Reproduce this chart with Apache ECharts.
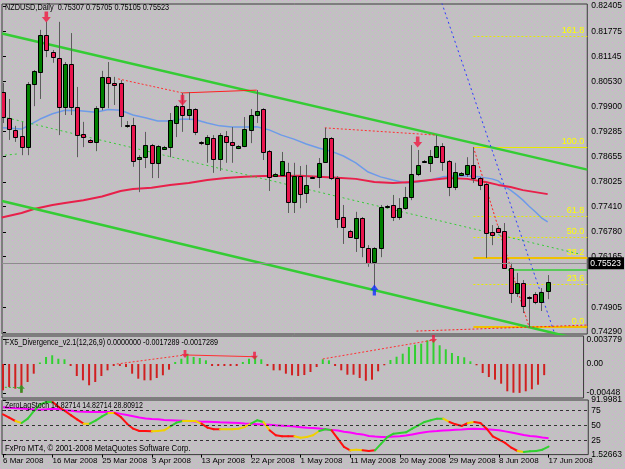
<!DOCTYPE html>
<html>
<head>
<meta charset="utf-8">
<script src="https://cdn.jsdelivr.net/npm/echarts@6/dist/echarts.min.js"></script>
<style>
html, body { margin: 0; padding: 0; }
#chart { width: 625px; height: 469px; }
</style>
</head>
<body>
<div id="chart"></div>
<script>
// NZDUSD daily, 6 Mar 2008 .. 17 Jun 2008 (bar index 0..88)
const opens = [0.8026,0.7962,0.7932,0.7917,0.7889,0.8046,0.8076,0.8168,0.8126,0.8111,
  0.7989,0.8096,0.7989,0.7922,0.7907,0.7902,0.7989,0.8064,0.8049,0.8049,
  0.7944,0.7944,0.7859,0.7864,0.7894,0.7850,0.7884,0.7889,0.7949,0.7991,
  0.7969,0.7984,0.7902,0.7897,0.7912,0.7859,0.7917,0.7902,0.7887,0.7892,
  0.7932,0.7969,0.7984,0.7879,0.7817,0.7820,0.7827,0.7752,0.7817,0.7775,
  0.7812,0.7815,0.7852,0.7912,0.7812,0.7715,0.7680,0.7663,0.7713,0.7638,
  0.7603,0.7638,0.7740,0.7745,0.7715,0.7737,0.7765,0.7822,0.7852,0.7850,
  0.7864,0.7892,0.7855,0.7790,0.7820,0.7822,0.7845,0.7812,0.7797,0.7678,
  0.7688,0.7680,0.7588,0.7526,0.7551,0.7516,0.7523,0.7503,0.75307];
const highs = [0.8049,0.8009,0.7942,0.7952,0.8051,0.8081,0.8181,0.8201,0.8131,0.8201,
  0.8101,0.8173,0.8039,0.7952,0.7909,0.7991,0.8079,0.8101,0.8064,0.8056,
  0.7954,0.7962,0.7869,0.7927,0.7897,0.7894,0.7892,0.7974,0.7994,0.8024,
  0.8026,0.7986,0.7904,0.7919,0.7919,0.7924,0.7929,0.7939,0.7894,0.7964,
  0.7984,0.8031,0.7986,0.7882,0.7825,0.7877,0.7850,0.7850,0.7842,0.7845,
  0.7817,0.7862,0.7937,0.7914,0.7817,0.7745,0.7683,0.7728,0.7715,0.7645,
  0.7640,0.7745,0.7745,0.7770,0.7762,0.7790,0.7894,0.7882,0.7857,0.7882,
  0.7919,0.7899,0.7857,0.7850,0.7827,0.7864,0.7889,0.7815,0.7800,0.7695,
  0.7693,0.7700,0.7601,0.7576,0.7558,0.7518,0.7528,0.7538,0.75705];
const lows = [0.7949,0.7907,0.7902,0.7869,0.7869,0.7991,0.8009,0.8113,0.8099,0.7919,
  0.7969,0.7969,0.7864,0.7889,0.7899,0.7879,0.7981,0.7986,0.7994,0.7939,
  0.7937,0.7840,0.7777,0.7837,0.7812,0.7812,0.7882,0.7864,0.7914,0.7927,
  0.7957,0.7919,0.7894,0.7850,0.7825,0.7830,0.7850,0.7850,0.7884,0.7889,
  0.7899,0.7949,0.7857,0.7780,0.7815,0.7817,0.7725,0.7725,0.7737,0.7750,
  0.7810,0.7787,0.7850,0.7807,0.7688,0.7648,0.7663,0.7628,0.7615,0.7591,
  0.7538,0.7615,0.7737,0.7705,0.7708,0.7733,0.7757,0.7817,0.7850,0.7827,
  0.7862,0.7830,0.7767,0.7782,0.7817,0.7815,0.7800,0.7782,0.7613,0.7645,
  0.7675,0.7586,0.7501,0.7516,0.7476,0.7441,0.7498,0.7481,0.75105];
const closes = [0.7964,0.7934,0.7914,0.7889,0.8046,0.8079,0.8168,0.8131,0.8113,0.7989,
  0.8096,0.7989,0.7919,0.7914,0.7902,0.7986,0.8064,0.8049,0.8044,0.7967,
  0.7943,0.7855,0.7864,0.7894,0.7850,0.7892,0.7889,0.7957,0.7991,0.7969,
  0.7984,0.7927,0.7899,0.7914,0.7859,0.7919,0.7902,0.7894,0.7892,0.7934,
  0.7969,0.7979,0.7877,0.7815,0.7822,0.7855,0.7752,0.7817,0.7772,0.7795,
  0.7815,0.7850,0.7912,0.7812,0.7710,0.7690,0.7665,0.7713,0.7640,0.7601,
  0.7638,0.7740,0.7742,0.7715,0.7737,0.7765,0.7822,0.7845,0.7855,0.7867,
  0.7892,0.7852,0.7790,0.7827,0.7825,0.7845,0.7812,0.7795,0.7675,0.7670,
  0.7678,0.7588,0.7526,0.7551,0.7493,0.7515,0.7503,0.7528,0.75523];

const dateBars = [0, 8, 16, 24, 32, 40, 48, 56, 64, 72, 80, 88];
const dateLabels = ['6 Mar 2008','16 Mar 2008','25 Mar 2008','3 Apr 2008','13 Apr 2008','22 Apr 2008',
  '1 May 2008','11 May 2008','20 May 2008','29 May 2008','8 Jun 2008','17 Jun 2008'];
const priceTicks = [0.82405,0.81775,0.81145,0.80530,0.79900,0.79285,0.78655,0.78025,0.77410,0.76780,0.76165,0.74905,0.74290];
const lastPrice = 0.75523;

// moving averages [bar, price]
const blueMa = [[0,0.7937],[3,0.7934],[4,0.7942],[6,0.7959],[8,0.7972],[10,0.7981],[12,0.7980],[15,0.7976],
  [17,0.7983],[19,0.7981],[21,0.7969],[23,0.7962],[25,0.7954],[27,0.7954],[29,0.7959],[31,0.7958],[33,0.7949],
  [35,0.7942],[37,0.7939],[39,0.7939],[41,0.7940],[43,0.7932],[45,0.7919],[47,0.7909],[49,0.7897],[51,0.7887],
  [53,0.7879],[55,0.7867],[57,0.7850],[59,0.7827],[61,0.7815],[63,0.7807],[65,0.7800],[67,0.7802],[69,0.7807],
  [71,0.7815],[73,0.7817],[75,0.7817],[77,0.7815],[79,0.7810],[80,0.7805],[81,0.7792],[82,0.7782],[83,0.7770],
  [84,0.7757],[85,0.7742],[86,0.7728],[87,0.7713],[88,0.7703]];
const redMa = [[-0.2,0.7714],[3,0.7725],[5,0.7735],[8,0.7745],[10,0.7750],[13,0.7757],[16,0.7766],[19,0.7780],
  [21,0.7785],[24,0.7788],[27,0.7795],[30,0.7800],[33,0.7807],[36,0.7812],[39,0.7815],[42,0.7817],[45,0.7817],
  [48,0.7818],[51,0.7815],[54,0.7813],[57,0.7810],[60,0.7802],[63,0.7800],[66,0.7802],[69,0.7807],[72,0.7812],
  [75,0.7810],[78,0.7802],[80,0.7795],[82,0.7790],[84,0.7782],[86,0.7777],[88,0.7772]];

// drawn objects [bar, price]
const upperChannel = [[-0.16,0.8172],[94.4,0.7833]];
const lowerChannel = [[-0.16,0.7755],[94.4,0.7406]];
const midChannel = [[0.64,0.7962],[93.1,0.7623]];
const midStub = [[0.3,0.7869],[2.3,0.7872]];
const supportLine = [[81.6,0.7583],[94.4,0.7583]];
const fibStart = 76;
const fibPrices = [0.7441,0.7547,0.7612,0.7665,0.7718,0.7889,0.8166];
const fibLabels = ['0.0','23.6','38.2','50.0','61.8','100.0','161.8'];
const fibAnchor = [[76,0.7889],[85,0.7441]];
const blueTrend = [[70.9,0.8248],[89.1,0.7426]];
const lowRedDots = [[66.8,0.7431],[94.4,0.7446]];
const priceDivDotted1 = [[18.6,0.8059],[29,0.8024]];
const priceDivSolid = [[29,0.8024],[41,0.8031]];
const priceDivDotted2 = [[52,0.7937],[70,0.7919]];
const downArrowsPrice = [[7,0.8213],[29,0.8006],[67,0.7902]];
const upArrowsPrice = [[60,0.7533]];

// FX5 divergence histogram
const histVals = [-0.00408,-0.00357,-0.00383,-0.00445,-0.00279,-0.00150,0.00023,0.00109,0.00135,0.00082,
  0.00073,-0.00031,-0.00186,-0.00253,-0.00330,-0.00279,-0.00186,-0.00098,-0.00031,-0.00031,
  -0.00047,-0.00150,-0.00228,-0.00253,-0.00253,-0.00217,-0.00175,-0.00088,0.00031,0.00082,
  0.00160,0.00109,0.00093,0.00057,-0.00031,-0.00031,-0.00031,-0.00031,-0.00031,0.00031,
  0.00082,0.00124,0.00073,-0.00031,-0.00098,-0.00098,-0.00150,-0.00175,-0.00186,-0.00171,
  -0.00124,-0.00047,0.00073,0.00057,-0.00031,-0.00098,-0.00166,-0.00166,-0.00217,-0.00259,
  -0.00243,-0.00113,-0.00020,0.00062,0.00113,0.00160,0.00264,0.00299,0.00315,0.00367,
  0.003779,0.00290,0.00228,0.00171,0.00124,0.00104,0.00042,-0.00020,-0.00140,-0.00202,
  -0.00243,-0.00305,-0.00423,-0.00445,-0.00448,-0.00423,-0.00392,-0.00321,-0.0017289];
const divTicks = [0.003779, 0, -0.00448];
const divTickLabels = ['0.003779', '0.00', '-0.00448'];
const divDotted1 = [[18.5,0.0000],[29.6,0.00140]];
const divSolid = [[29.6,0.00140],[40.9,0.00113]];
const divDotted2 = [[52,0.00078],[70,0.00372]];
const divGreenDots = [[0.3,-0.00361],[2.8,-0.00366]];
const downArrowsDiv = [[29.6,0.00155],[40.9,0.00127],[70,0.00388]];
const upArrowsDiv = [[3,-0.00383]];

// ZeroLagStoch
const stochMain = [68.3,62.8,57.2,53.9,61.1,73.8,84.8,88.7,88.7,80.4,
  73.8,66.6,59.4,52.8,52.8,58.3,65.0,70.5,70.5,63.9,
  52.8,44.5,40.7,40.7,40.1,40.7,41.8,48.4,54.5,57.2,
  57.2,57.2,52.8,46.2,43.4,43.4,43.4,43.4,44.5,47.3,
  52.8,58.3,55.6,41.8,33.5,31.8,31.8,31.8,29.6,30.7,
  33.5,40.7,43.4,41.8,28.0,14.2,8.6,9.7,8.6,7.5,
  8.6,19.7,30.7,36.2,37.4,38.5,44.5,50.1,55.6,58.3,
  61.1,61.1,55.6,51.7,49.0,53.9,55.6,53.9,44.5,31.8,
  26.3,20.8,13.0,7.5,5.9,7.0,7.5,9.7,14.82714];
// d = falling, f = flat, u = rising
const stochState = 'dddfuuuuudddddfuuufddddddfffuufffdddfffffuufddddffffuuddd' +
  'ffdduuuuuuuuuuufdddfdddddddfuuuu';
const stochSignal = [80,79,78.5,78,77,76.5,76,76.5,77.5,77,
  75,74,73,72.5,72,72,72,72,71,69,
  67,65,63,61.5,60.5,60,59,58.5,58,57.5,
  57,56.5,56,55.8,55.5,55,54.6,54.2,53.7,53,
  52.5,52,51.5,51,50.2,49.5,48.8,48,47,46,
  45.5,44.8,43.5,42.5,41.5,39.5,38,36,35,32.5,
  31.5,30.8,30.7,31.5,32,33,35,37,38.5,40,
  40.5,41.5,42,42.5,43,43.8,44.5,44,43.4,42.8,
  42,40,38,36,34,32.5,31.5,30,28.80912];
const stochTicks = [91.9981, 75, 50, 25, 1.52663];
const stochTickLabels = ['91.9981', '75', '50', '25', '1.52663'];
const stochLevels = [75, 50, 25];

const FONT = "'Liberation Sans', Arial, sans-serif";
const FS = 8.5;
const xMin = -0.16, xMax = 94.4;

// grey chart background with sparse pink dither dots
const tile = document.createElement('canvas');
tile.width = 6; tile.height = 6;
const tg = tile.getContext('2d');
tg.fillStyle = '#c1c1c1';
tg.fillRect(0, 0, 6, 6);
tg.fillStyle = '#dca2dc';
[[0,0],[3,3]].forEach(p => tg.fillRect(p[0], p[1], 1, 1));

const chart = echarts.init(document.getElementById('chart'));

function renderCandle(params, api) {
  const i = api.value(0);
  const o = api.value(1), c = api.value(4);
  const pO = api.coord([i, o]);
  const pC = api.coord([i, c]);
  const pH = api.coord([i, api.value(2)]);
  const pL = api.coord([i, api.value(3)]);
  const x = Math.round(pO[0]);
  const top = Math.round(Math.min(pO[1], pC[1]));
  const bh = Math.max(Math.round(Math.abs(pO[1] - pC[1])), 1);
  return {
    type: 'group',
    children: [
      { type: 'line', shape: { x1: x + 0.5, y1: pH[1], x2: x + 0.5, y2: pL[1] },
        style: { stroke: '#5c5c5c', lineWidth: 1 } },
      { type: 'rect', shape: { x: x - 1.5, y: top + 0.5, width: 4, height: bh },
        style: { fill: c >= o ? '#008000' : '#e8164e', stroke: '#000', lineWidth: 1 } }
    ]
  };
}

const fibLook = [
  { w: 2, c: '#f0c000', dash: null },
  { w: 1, c: '#e8e800', dash: [2, 2] },
  { w: 2, c: '#f0c000', dash: null },
  { w: 1, c: '#e8e800', dash: [2, 2] },
  { w: 1, c: '#e8e800', dash: [2, 2] },
  { w: 1, c: '#e8e800', dash: null },
  { w: 1, c: '#e8e800', dash: [2, 2] }
];

function renderFib(params, api) {
  const k = api.value(2);
  const p = api.coord([api.value(0), api.value(1)]);
  const right = params.coordSys.x + params.coordSys.width;
  const st = fibLook[k];
  const y = Math.round(p[1]) + (st.w % 2 ? 0.5 : 0);
  return {
    type: 'group',
    children: [
      { type: 'line', shape: { x1: p[0], y1: y, x2: right, y2: y },
        style: { stroke: st.c, lineWidth: st.w, lineDash: st.dash } },
      { type: 'text', x: right - 3, y: y - 1,
        style: { text: fibLabels[k], fill: '#ffff00', fontSize: 9, fontFamily: FONT,
          align: 'right', verticalAlign: 'bottom' } }
    ]
  };
}

const stateColors = ['#ff1010', '#f0d000', '#30d030'];
function renderStoch(params, api) {
  const i = api.value(0);
  const a = api.coord([i - 1, api.value(1)]);
  const b = api.coord([i, api.value(2)]);
  return { type: 'line', shape: { x1: a[0], y1: a[1], x2: b[0], y2: b[1] },
    style: { stroke: stateColors[api.value(3)], lineWidth: 2, lineCap: 'round' } };
}

function seg(data, color, width, dash, xi) {
  return {
    type: 'line', data: data, xAxisIndex: xi || 0, yAxisIndex: xi || 0,
    showSymbol: false, silent: true, z: 3,
    lineStyle: { color: color, width: width, type: dash || 'solid' }
  };
}

function caption(text, x, y, sx) {
  return { type: 'text', x: x, y: y, z: 10, silent: true, scaleX: sx,
    style: { text: text, fill: '#000', fontSize: 9, fontFamily: FONT } };
}

const downPath = 'path://M3,0L7,0L7,6L10,6L5,12L0,6L3,6Z';
const upPath = 'path://M5,0L10,6L7,6L7,12L3,12L3,6L0,6Z';

const xBase = { type: 'value', min: xMin, max: xMax, axisLine: { show: false },
  axisTick: { show: false }, axisLabel: { show: false }, splitLine: { show: false } };
const gridBase = { left: 2, width: 591, show: true, borderColor: '#3a3a3a', borderWidth: 1,
  backgroundColor: 'transparent' };
const labelBase = { color: '#000', fontSize: FS, fontFamily: FONT, hideOverlap: false,
  showMinLabel: true, showMaxLabel: true };

chart.setOption({
  animation: false,
  backgroundColor: { image: tile, repeat: 'repeat' },
  textStyle: { fontFamily: FONT },
  grid: [
    Object.assign({}, gridBase, { top: 4, height: 330 }),
    Object.assign({}, gridBase, { top: 336, height: 62 }),
    Object.assign({}, gridBase, { top: 400, height: 54.6 })
  ],
  xAxis: [
    Object.assign({}, xBase, { gridIndex: 0 }),
    Object.assign({}, xBase, { gridIndex: 1 }),
    Object.assign({}, xBase, {
      gridIndex: 2,
      axisTick: { show: true, customValues: dateBars, length: 3, lineStyle: { color: '#000' } },
      axisLabel: Object.assign({}, labelBase, { show: true, customValues: dateBars, align: 'left', margin: 2,
        fontSize: 8, formatter: v => dateLabels[dateBars.indexOf(Math.round(v))] || '' })
    })
  ],
  yAxis: [
    { gridIndex: 0, type: 'value', position: 'right', min: 0.742374, max: 0.824544,
      axisLine: { show: false }, splitLine: { show: false },
      axisTick: { show: true, customValues: priceTicks, length: 3, lineStyle: { color: '#000' } },
      axisLabel: Object.assign({}, labelBase, { customValues: priceTicks, margin: 4,
        formatter: v => v.toFixed(5) }) },
    { gridIndex: 1, type: 'value', position: 'right', min: -0.00527, max: 0.00434,
      axisLine: { show: false }, splitLine: { show: false },
      axisTick: { show: true, customValues: divTicks, length: 3, lineStyle: { color: '#000' } },
      axisLabel: Object.assign({}, labelBase, { customValues: divTicks, margin: 3,
        formatter: v => divTickLabels[divTicks.indexOf(v)] }) },
    { gridIndex: 2, type: 'value', position: 'right', min: 1.52663, max: 91.9981,
      axisLine: { show: false }, splitLine: { show: false },
      axisTick: { show: true, customValues: stochTicks, length: 3, lineStyle: { color: '#000' } },
      axisLabel: Object.assign({}, labelBase, { customValues: stochTicks, margin: 3,
        formatter: v => stochTickLabels[stochTicks.indexOf(v)] }) }
  ],
  series: [
    // price window
    seg(blueMa, '#6d9be8', 1.5),
    seg(redMa, '#e8204a', 2),
    seg(upperChannel, '#34cc34', 2.5),
    seg(lowerChannel, '#34cc34', 2.5),
    seg(midChannel, '#34cc34', 1, [2, 3]),
    seg(midStub, '#34cc34', 1, [2, 3]),
    seg(supportLine, '#34cc34', 1.5),
    {
      type: 'custom', xAxisIndex: 0, yAxisIndex: 0, z: 2, silent: true, clip: true,
      data: fibPrices.map((p, k) => [fibStart, p, k]),
      encode: { x: 0, y: 1 },
      renderItem: renderFib
    },
    {
      type: 'line', data: [], xAxisIndex: 0, yAxisIndex: 0, silent: true, z: 2,
      markLine: {
        symbol: ['none', 'none'], silent: true,
        lineStyle: { color: '#8c8c8c', width: 1, type: 'solid' },
        label: { position: 'end', distance: 1, formatter: lastPrice.toFixed(5), color: '#fff',
          backgroundColor: '#000', padding: [2, 3, 1, 2], fontSize: FS, fontFamily: FONT },
        data: [{ yAxis: lastPrice }]
      }
    },
    seg(fibAnchor, '#ff2020', 1, [2, 2]),
    seg(blueTrend, '#2a3cff', 1, [2, 3]),
    seg(lowRedDots, '#ff2020', 1, [2, 2]),
    seg(priceDivDotted1, '#ff3030', 1, [2, 2]),
    seg(priceDivSolid, '#ff2020', 1),
    seg(priceDivDotted2, '#ff3030', 1, [2, 2]),
    {
      type: 'custom', xAxisIndex: 0, yAxisIndex: 0, z: 4, silent: true, clip: true,
      data: opens.map((o, i) => [i, o, highs[i], lows[i], closes[i]]),
      encode: { x: 0, y: [1, 2, 3, 4] },
      renderItem: renderCandle
    },
    { type: 'scatter', xAxisIndex: 0, yAxisIndex: 0, z: 5, silent: true, data: downArrowsPrice,
      symbol: downPath, symbolSize: [9, 11], itemStyle: { color: '#f01840' } },
    { type: 'scatter', xAxisIndex: 0, yAxisIndex: 0, z: 5, silent: true, data: upArrowsPrice,
      symbol: upPath, symbolSize: [8, 11], itemStyle: { color: '#1030ff' } },

    // divergence window
    { type: 'bar', xAxisIndex: 1, yAxisIndex: 1, silent: true, barWidth: 2,
      data: histVals.map((v, i) => [i, v]),
      itemStyle: { color: p => (p.value[1] >= 0 ? '#30d030' : '#d02020') } },
    seg(divDotted1, '#ff3030', 1, [2, 2], 1),
    seg(divSolid, '#ff3030', 1, null, 1),
    seg(divDotted2, '#ff3030', 1, [2, 2], 1),
    seg(divGreenDots, '#30c030', 1, [2, 2], 1),
    { type: 'scatter', xAxisIndex: 1, yAxisIndex: 1, z: 5, silent: true, data: downArrowsDiv,
      symbol: downPath, symbolSize: [7, 8], itemStyle: { color: '#f01840' } },
    { type: 'scatter', xAxisIndex: 1, yAxisIndex: 1, z: 5, silent: true, data: upArrowsDiv,
      symbol: upPath, symbolSize: [7, 8], itemStyle: { color: '#20a020' } },

    // stochastic window
    {
      type: 'line', xAxisIndex: 2, yAxisIndex: 2, silent: true, showSymbol: false, z: 3,
      data: stochSignal.map((v, i) => [i, v]),
      lineStyle: { color: '#ff00ff', width: 2 },
      markLine: {
        symbol: ['none', 'none'], silent: true, label: { show: false },
        lineStyle: { color: '#333', width: 1, type: [3, 3] },
        data: stochLevels.map(v => ({ yAxis: v }))
      }
    },
    {
      type: 'custom', xAxisIndex: 2, yAxisIndex: 2, silent: true, z: 4,
      data: stochMain.slice(1).map((v, j) => [j + 1, stochMain[j], v, 'dfu'.indexOf(stochState[j + 1])]),
      encode: { x: 0, y: [1, 2] },
      renderItem: renderStoch
    }
  ],
  graphic: [
    caption('NZDUSD,Daily  0.75307 0.75705 0.75105 0.75523', 5, 3, 0.81),
    caption('FX5_Divergence_v2.1(12,26,9) 0.0000000 -0.0017289 -0.0017289', 5, 338, 0.8),
    caption('ZeroLagStoch 14.82714 14.82714 28.80912', 5, 401, 0.78),
    caption('FxPro MT4, \u00a9 2001-2008 MetaQuotes Software Corp.', 5, 444, 0.86)
  ]
});
</script>
</body>
</html>
